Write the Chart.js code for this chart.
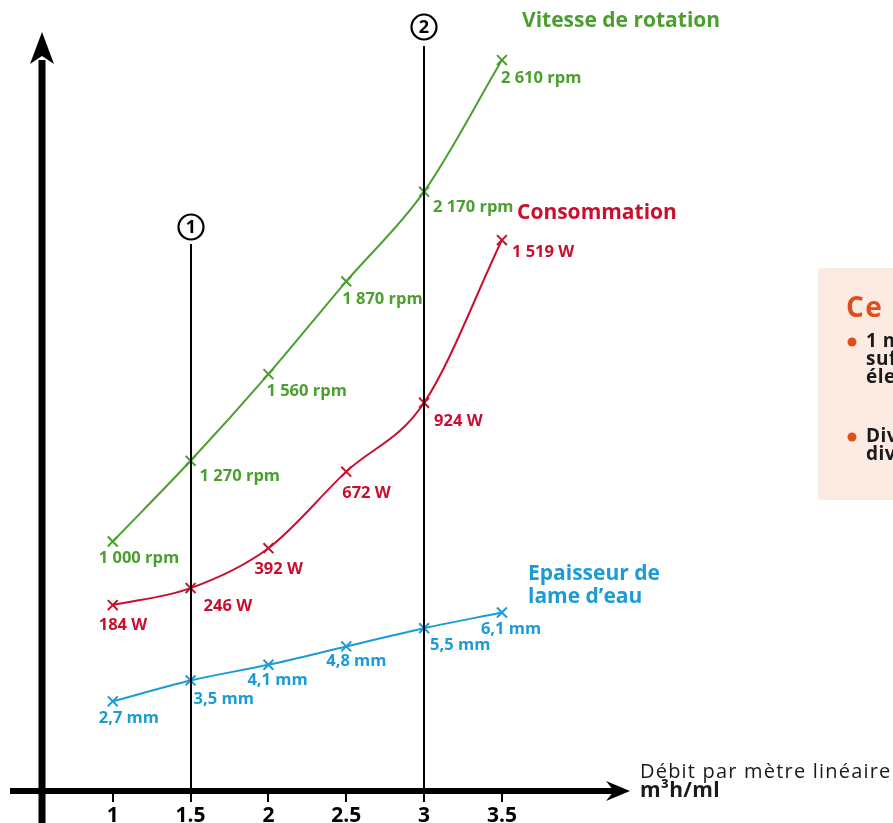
<!DOCTYPE html>
<html><head><meta charset="utf-8">
<script src="https://cdn.jsdelivr.net/npm/chart.js@4"></script>
<style>html,body{margin:0;padding:0;background:#fff;overflow:hidden}#wrap{position:relative;width:893px;height:823px}</style>
</head><body><div id="wrap"><canvas id="c" width="893" height="823"></canvas></div>
<script>
// ---- data ----
const debit = [1, 1.5, 2, 2.5, 3, 3.5];
const tickLabels = ['1', '1.5', '2', '2.5', '3', '3.5'];
const vitesse = [1000, 1270, 1560, 1870, 2170, 2610];
const vitesseLabels = ['1 000 rpm', '1 270 rpm', '1 560 rpm', '1 870 rpm', '2 170 rpm', '2 610 rpm'];
const consommation = [184, 246, 392, 672, 924, 1519];
const consommationLabels = ['184 W', '246 W', '392 W', '672 W', '924 W', '1 519 W'];
const epaisseur = [2.7, 3.5, 4.1, 4.8, 5.5, 6.1];
const epaisseurLabels = ['2,7 mm', '3,5 mm', '4,1 mm', '4,8 mm', '5,5 mm', '6,1 mm'];
const reperes = [1.5, 3];
const repereNums = ['1', '2'];
const seriesNames = ['Vitesse de rotation', 'Consommation', 'Epaisseur de\nlame d\u2019eau'];
const axisTitle = ['D\u00e9bit par m\u00e8tre lin\u00e9aire', 'm\u00b3h/ml'];
const panelTitle = 'Ce qu\u2019il faut retenir';
const panelBullets = [['1 m\u00b3h/ml de plus', 'suffit \u00e0 faire', '\u00e9lever la consommation'], ['Diviser le d\u00e9bit', 'divise la consommation']];

// ---- style ----
const GREEN = '#4a9f2f', RED = '#c8102e', BLUE = '#1b9bd7', ORANGE = '#e04e1b';
const FONT = "'Open Sans', 'DejaVu Sans', sans-serif";
const style = {
  labelOffsets: [
    [[-14, 17], [9, 16], [-2, 17], [-4, 18], [9, 16], [-1, 18]],
    [[-14, 20], [13, 18], [-14, 21], [-4, 22], [10, 19], [10, 12]],
    [[-14, 17], [3, 19], [-21, 16], [-20, 15], [6, 17], [-21, 17]]
  ],
  titlePos: [[[522, 21]], [[517, 213]], [[528, 574], [528, 597]]],
  repereTop: [244, 46],
  repereCircleY: [227, 27],
  axisY: 791, axisLeft: 10, axisRight: 614, yAxisX: 42
};

const decor = {
  id: 'decor',
  beforeDraw(chart) {
    const ctx = chart.ctx;
    ctx.save();
    ctx.fillStyle = '#fff';
    ctx.fillRect(0, 0, chart.width, chart.height);
    // side panel (cut off at right edge)
    ctx.fillStyle = '#fcebe3';
    ctx.fillRect(818, 268, 100, 232);
    ctx.fillStyle = ORANGE;
    ctx.font = 'bold 28px ' + FONT;
    ctx.textBaseline = 'middle';
    ctx.textAlign = 'left';
    try { ctx.letterSpacing = '1.5px'; } catch (e) {}
    ctx.fillText(panelTitle, 846, 309);
    try { ctx.letterSpacing = '0.5px'; } catch (e) {}
    ctx.font = 'bold 19px ' + FONT;
    const starts = [342, 437];
    panelBullets.forEach((lines, bi) => {
      ctx.fillStyle = ORANGE;
      ctx.beginPath(); ctx.arc(852, starts[bi], 4.5, 0, Math.PI * 2); ctx.fill();
      ctx.fillStyle = '#1a1a1a';
      lines.forEach((t, li) => ctx.fillText(t, 866, starts[bi] + li * 18));
    });
    try { ctx.letterSpacing = '0px'; } catch (e) {}
    ctx.restore();
  },
  afterDatasetsDraw(chart) {
    const ctx = chart.ctx, xs = chart.scales.x;
    ctx.save();
    // repère lines
    ctx.strokeStyle = '#000'; ctx.lineWidth = 2;
    reperes.forEach((v, i) => {
      const px = Math.round(xs.getPixelForValue(v));
      ctx.lineWidth = 2;
      ctx.beginPath(); ctx.moveTo(px, style.repereTop[i]); ctx.lineTo(px, style.axisY); ctx.stroke();
      ctx.beginPath(); ctx.lineWidth = 2.2; ctx.arc(px, style.repereCircleY[i], 12.5, 0, Math.PI * 2); ctx.stroke();
      ctx.fillStyle = '#000'; ctx.font = 'bold 18px ' + FONT; ctx.textAlign = 'center'; ctx.textBaseline = 'middle';
      ctx.fillText(repereNums[i], px, style.repereCircleY[i] + 1);
    });
    // point labels
    ctx.font = 'bold 16.5px ' + FONT; ctx.textAlign = 'left'; ctx.textBaseline = 'middle';
    chart.data.datasets.forEach((ds, di) => {
      const meta = chart.getDatasetMeta(di);
      ctx.fillStyle = ds.borderColor;
      meta.data.forEach((pt, i) => {
        const o = style.labelOffsets[di][i];
        ctx.fillText(ds.pointLabels[i], pt.x + o[0], pt.y + o[1]);
      });
    });
    // series names
    ctx.font = 'bold 21px ' + FONT;
    chart.data.datasets.forEach((ds, di) => {
      ctx.fillStyle = ds.borderColor;
      seriesNames[di].split('\n').forEach((t, li) => {
        const p = style.titlePos[di][li];
        ctx.fillText(t, p[0], p[1]);
      });
    });
    // axes
    ctx.fillStyle = '#000'; ctx.strokeStyle = '#000';
    ctx.fillRect(style.axisLeft, style.axisY - 3, style.axisRight - style.axisLeft, 6);
    ctx.beginPath();
    ctx.moveTo(630, style.axisY); ctx.lineTo(606, style.axisY - 10); ctx.lineTo(614, style.axisY); ctx.lineTo(606, style.axisY + 10); ctx.closePath(); ctx.fill();
    ctx.fillRect(style.yAxisX - 3.5, 60, 7, 823 - 60);
    ctx.beginPath();
    ctx.moveTo(style.yAxisX, 32); ctx.lineTo(style.yAxisX - 12, 64); ctx.lineTo(style.yAxisX, 56); ctx.lineTo(style.yAxisX + 12, 64); ctx.closePath(); ctx.fill();
    // axis title
    ctx.fillStyle = '#1a1a1a';
    ctx.font = '20px ' + FONT;
    try { ctx.letterSpacing = '1.2px'; } catch (e) {}
    ctx.fillText(axisTitle[0], 640, 772);
    try { ctx.letterSpacing = '0.3px'; } catch (e) {}
    ctx.font = 'bold 21px ' + FONT;
    ctx.fillText(axisTitle[1], 640, 791);
    try { ctx.letterSpacing = '0px'; } catch (e) {}
    ctx.restore();
  }
};

const pts = arr => debit.map((x, i) => ({ x, y: arr[i] }));
const mk = (arr, labels, color, axis) => ({
  data: pts(arr), pointLabels: labels, yAxisID: axis,
  borderColor: color, backgroundColor: color, borderWidth: 2,
  pointStyle: 'crossRot', pointRadius: 7, pointBorderWidth: 2,
  pointBorderColor: color, cubicInterpolationMode: 'monotone', fill: false, clip: false
});

new Chart(document.getElementById('c'), {
  type: 'line',
  data: {
    datasets: [
      mk(vitesse, vitesseLabels, GREEN, 'yV'),
      mk(consommation, consommationLabels, RED, 'yC'),
      mk(epaisseur, epaisseurLabels, BLUE, 'yE')
    ]
  },
  options: {
    responsive: false, animation: false, devicePixelRatio: 1,
    layout: { padding: { left: 10, right: 279, top: 0, bottom: 0 } },
    plugins: { legend: { display: false }, tooltip: { enabled: false } },
    scales: {
      x: {
        type: 'linear', min: 0.34, max: 4.22,
        afterBuildTicks: s => { s.ticks = debit.map(v => ({ value: v })); },
        afterFit: s => { s.height = 32; },
        grid: { drawOnChartArea: false, drawTicks: true, tickLength: 11, color: '#000', lineWidth: 2 },
        border: { display: false },
        ticks: { padding: 1, color: '#000', autoSkip: false, maxRotation: 0,
          font: { family: FONT, weight: 'bold', size: 21 },
          callback: (v, i) => tickLabels[i] }
      },
      yV: { display: false, min: 165.7, max: 2780.9 },
      yC: { display: false, min: -496, max: 2364 },
      yE: { display: false, min: -0.73, max: 29.19 }
    }
  },
  plugins: [decor]
});
</script></body></html>
